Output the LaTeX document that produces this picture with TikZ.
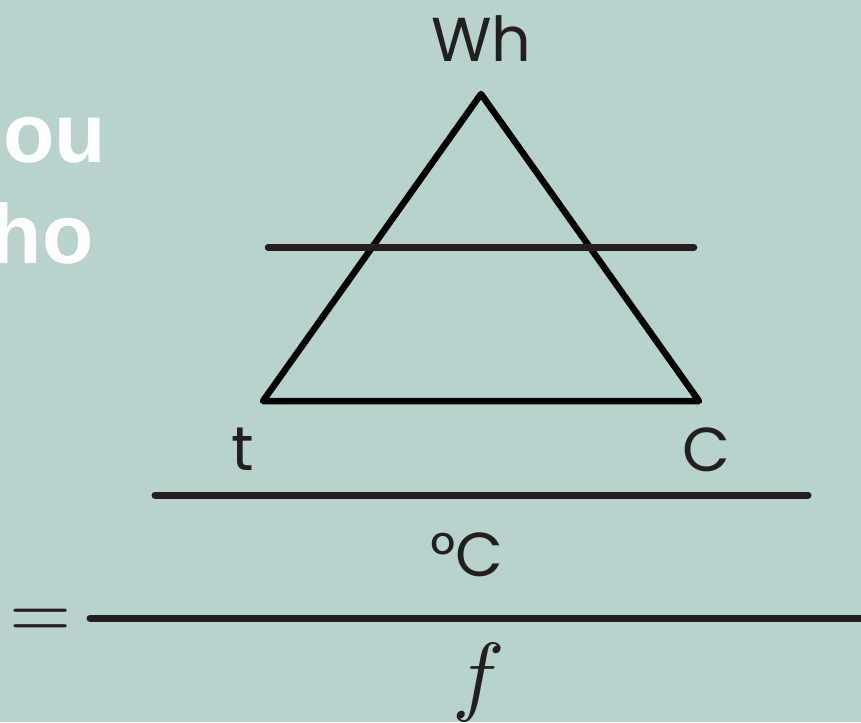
\documentclass[tikz,border=0pt]{standalone}
\usepackage{fontspec}
\setmainfont{Poppins}
\newfontfamily\arialfam{Liberation Sans}
\definecolor{bgc}{HTML}{B8D2CD}
\definecolor{ink}{HTML}{231F20}
\tikzset{
  bigword/.style={inner sep=0pt, text=white, font=\arialfam\bfseries\fontsize{84}{100}\selectfont, anchor=base east},
  lbl/.style={inner sep=0pt, text=ink, font=\fontsize{62}{74}\selectfont, anchor=base},
  mathlbl/.style={inner sep=0pt, text=ink, anchor=base},
  tri/.style={draw=black, line width=6.5pt, line join=round},
  bar/.style={draw=ink, line width=7pt, line cap=round}
}
\begin{document}
\begin{tikzpicture}[x=1pt,y=-1pt]
\fill[bgc] (0,0) rectangle (861,722);
\useasboundingbox (0,0) rectangle (861,722);
\clip (0,0) rectangle (861,722);
% left words
\node[bigword] (w1) at (106,163) {zou};
\node[bigword] (w2) at (93.5,263) {ho};
% triangle
\coordinate (A) at (481,94);
\coordinate (B) at (263,401);
\coordinate (Cc) at (699,401);
\draw[tri] (A) -- (B) -- (Cc) -- cycle;
\coordinate (h1) at (268,247.5);
\coordinate (h2) at (694,247.5);
\draw[bar, line width=6.5pt] (h1) -- (h2);
% labels
\node[lbl] (wh) at (481.5,62) {Wh};
\node[lbl] (t) at (243,470) {t};
\node[lbl] (c) at (706.5,471) {C};
% first fraction
\coordinate (f1a) at (155,495);
\coordinate (f1b) at (808,495);
\draw[bar] (f1a) -- (f1b);
\node[lbl] (degc) at (467,576) {°C};
% second fraction
\node[mathlbl] (eq) at (41,638.5) {\scalebox{8}{$=$}};
\coordinate (f2a) at (90,618);
\coordinate (f2b) at (880,618);
\draw[bar] (f2a) -- (f2b);
\node[mathlbl] (f) at (479,704) {\scalebox{8.8}{$f$}};
\end{tikzpicture}
\end{document}
